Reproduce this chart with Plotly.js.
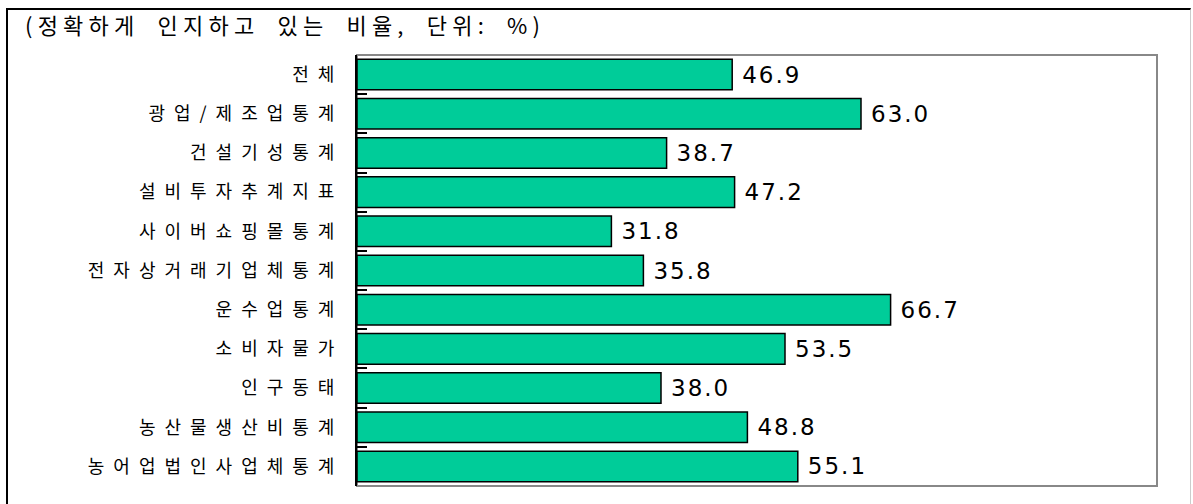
<!DOCTYPE html>
<html>
<head>
<meta charset="utf-8">
<script src="https://cdn.plot.ly/plotly-3.0.1.min.js"></script>
<style>
  html, body { margin: 0; padding: 0; background: #fff; }
  #wrap { position: relative; width: 1193px; height: 504px; overflow: hidden; }
  #frame { position: absolute; left: 6px; top: 8px; width: 1185px; height: 520px;
           border-left: 2px solid #000; border-top: 2px solid #000; border-right: 1px solid #ccc;
           box-sizing: border-box; pointer-events: none; z-index: 5; }
  #chart { position: absolute; left: 0; top: 0; }
  .ytick text { letter-spacing: 9px !important; }
  text.bartext { letter-spacing: 2px !important; }
  text.gtitle { letter-spacing: 5.2px !important; word-spacing: 8px !important; }
</style>
</head>
<body>
<div id="wrap">
  <div id="chart"></div>
  <div id="frame"></div>
</div>
<script>
// Survey items, top to bottom
const categories = [
  '전체',
  '광업/제조업통계',
  '건설기성통계',
  '설비투자추계지표',
  '사이버쇼핑몰통계',
  '전자상거래기업체통계',
  '운수업통계',
  '소비자물가',
  '인구동태',
  '농산물생산비통계',
  '농어업법인사업체통계'
];
// Share who know the statistic accurately (%)
const values = [46.9, 63.0, 38.7, 47.2, 31.8, 35.8, 66.7, 53.5, 38.0, 48.8, 55.1];
const titleText = '(정확하게 인지하고 있는 비율, 단위: %)';

const trace = {
  type: 'bar',
  orientation: 'h',
  y: categories,
  x: values,
  text: values.map(v => v.toFixed(1)),
  textposition: 'outside',
  textfont: { family: 'DejaVu Sans, sans-serif', size: 23, color: '#000' },
  cliponaxis: false,
  marker: { color: '#00CC99', line: { color: '#000', width: 1.5 } },
  hoverinfo: 'skip'
};

const layout = {
  width: 1193,
  height: 504,
  margin: { l: 357, r: 36, t: 55, b: 18 },
  paper_bgcolor: 'rgba(0,0,0,0)',
  plot_bgcolor: '#fff',
  showlegend: false,
  bargap: 0.22,
  title: {
    text: titleText,
    font: { family: 'Noto Sans CJK KR, sans-serif', size: 22, color: '#000' },
    xref: 'container', x: 0.021, xanchor: 'left',
    yref: 'container', y: 0.947, yanchor: 'middle'
  },
  xaxis: {
    range: [0, 100],
    showticklabels: false,
    showgrid: false,
    zeroline: false,
    ticks: '',
    showline: false,
    fixedrange: true
  },
  yaxis: {
    type: 'category',
    autorange: 'reversed',
    showgrid: false,
    zeroline: false,
    showline: true,
    linecolor: '#000',
    linewidth: 2,
    ticks: 'inside',
    tickson: 'boundaries',
    ticklen: 10,
    tickwidth: 2,
    tickcolor: '#000',
    ticklabelstandoff: 8,
    tickfont: { family: 'Noto Sans CJK KR, sans-serif', size: 18, color: '#000' },
    fixedrange: true
  },
  shapes: [{
    type: 'rect', xref: 'paper', yref: 'paper',
    x0: 0, x1: 1, y0: 0, y1: 1,
    line: { color: '#888', width: 2 },
    layer: 'below'
  }]
};

Plotly.newPlot('chart', [trace], layout, { displayModeBar: false, staticPlot: true }).then(gd => {
  // push the outside value labels a little further from the bar ends
  gd.querySelectorAll('text.bartext').forEach(t => {
    const x = parseFloat(t.getAttribute('x')) || 0;
    t.setAttribute('x', x + 7);
  });
});
</script>
</body>
</html>
